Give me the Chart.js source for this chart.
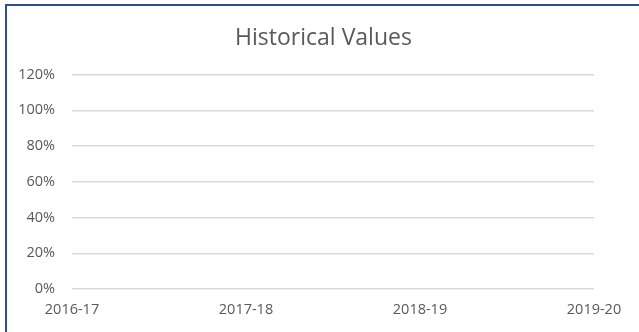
<!DOCTYPE html>
<html>
<head>
<meta charset="utf-8">
<script src="https://cdn.jsdelivr.net/npm/chart.js@4/dist/chart.umd.min.js"></script>
<style>
  html, body { margin: 0; padding: 0; background: #ffffff; overflow: hidden; }
  #frame {
    position: absolute; left: 5px; top: 4px; width: 700px; height: 400px;
    border-left: 2px solid #2f4f8a; border-top: 2px solid #2f4f8a;
    box-sizing: border-box;
  }
  #wrap { position: absolute; left: 0; top: 0; width: 639px; height: 332px; }
</style>
</head>
<body>
<div id="frame"></div>
<div id="wrap"><canvas id="chart" width="639" height="332"></canvas></div>
<script>
// Fiscal years on the category axis
const categories = ['2016-17', '2017-18', '2018-19', '2019-20'];
// Historical share values (no recorded values for these years)
const historicalValues = [null, null, null, null];
// Percentage ticks on the value axis
const tickValues = [0, 0.2, 0.4, 0.6, 0.8, 1.0, 1.2];

const textColor = '#595959';
const gridColor = '#d9d9d9';
const font = "'Open Sans', 'Liberation Sans', sans-serif";
const labelSize = 14.5;

new Chart(document.getElementById('chart'), {
  type: 'line',
  data: {
    labels: categories,
    datasets: [{
      label: 'Historical Values',
      data: historicalValues,
      borderColor: '#4472c4',
      backgroundColor: '#4472c4',
      borderWidth: 2,
      pointRadius: 0
    }]
  },
  options: {
    responsive: false,
    animation: false,
    layout: { padding: { left: 8, right: 0, top: 25, bottom: 13 } },
    plugins: {
      legend: { display: false },
      tooltip: { enabled: false },
      title: {
        display: true,
        text: 'Historical Values',
        color: textColor,
        font: { family: font, size: 23, weight: 'normal' },
        padding: { top: 0, bottom: 22 }
      }
    },
    scales: {
      x: {
        offset: false,
        afterFit: (axis) => { axis.height = 30; },
        grid: { display: false, drawTicks: false },
        border: { display: false },
        ticks: {
          color: textColor,
          font: { family: font, size: labelSize },
          padding: 12,
          maxRotation: 0,
          autoSkip: false
        }
      },
      y: {
        min: 0,
        max: 1.2,
        afterBuildTicks: (axis) => { axis.ticks = tickValues.map(v => ({ value: v })); },
        afterFit: (axis) => { axis.width = 64; },
        grid: { color: gridColor, lineWidth: 1.5, drawTicks: false },
        border: { display: false },
        ticks: {
          color: textColor,
          font: { family: font, size: labelSize },
          padding: 17,
          callback: (v) => Math.round(v * 100) + '%'
        }
      },
      // empty right-hand margin so the plot sits left of centre like the title
      gutter: {
        type: 'linear',
        position: 'right',
        min: 0,
        max: 1.2,
        afterFit: (axis) => { axis.width = 45; },
        grid: { display: false, drawTicks: false },
        border: { display: false },
        ticks: { display: false }
      }
    }
  }
});
</script>
</body>
</html>
